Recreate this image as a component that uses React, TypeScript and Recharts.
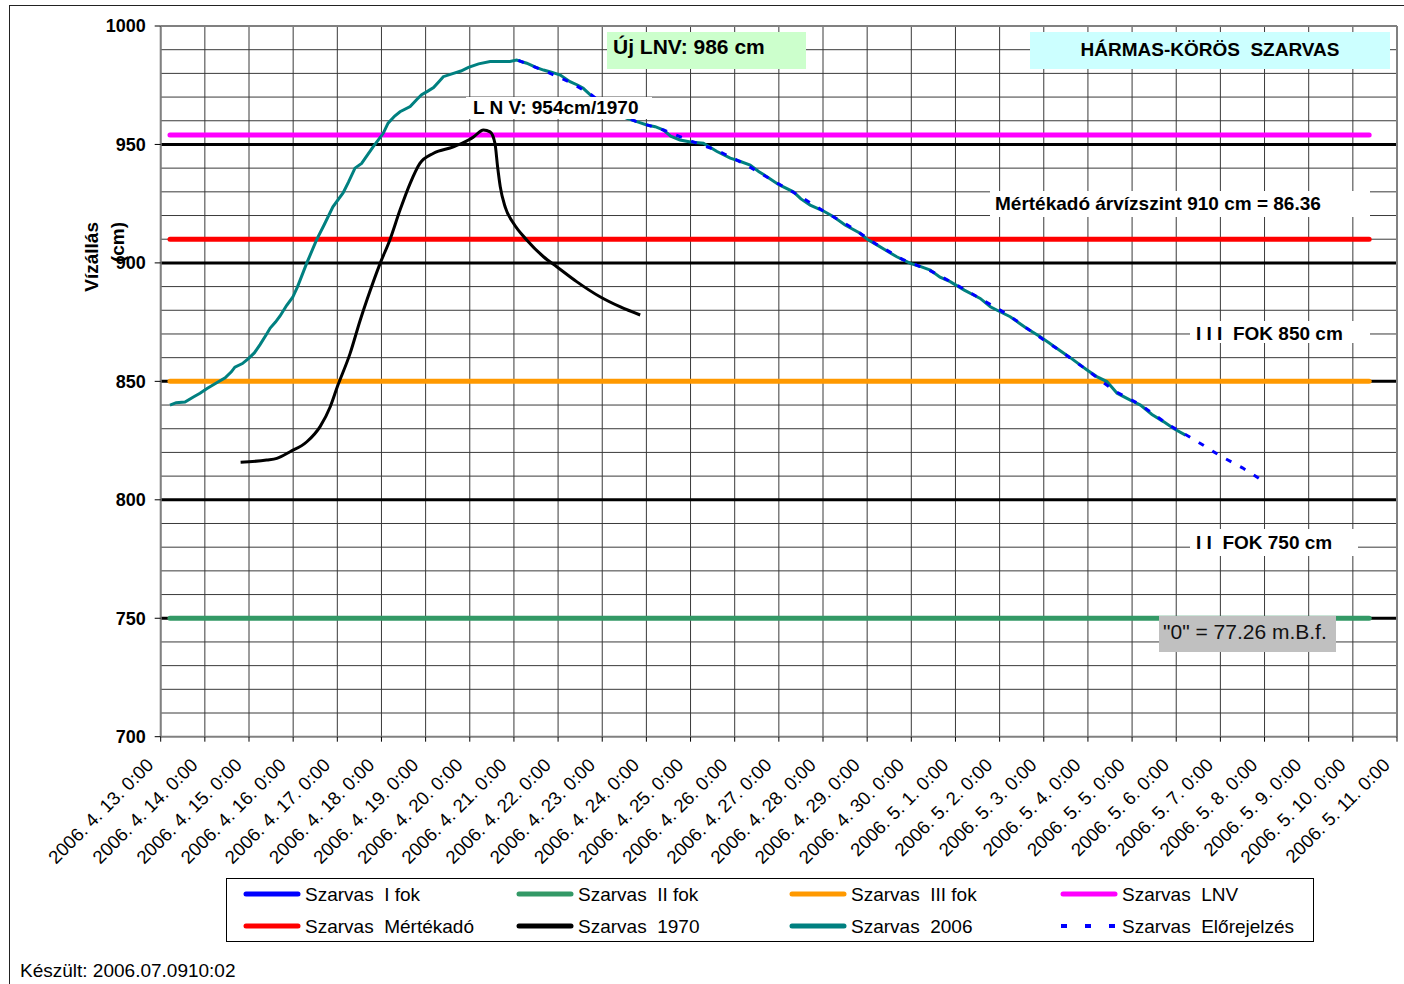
import React from 'react';
import { LineChart, Line, XAxis, YAxis, CartesianGrid, ReferenceLine } from 'recharts';

const FONT = "'Liberation Sans', Arial, sans-serif";

const tickLabels = [
  '2006. 4. 13. 0:00', '2006. 4. 14. 0:00', '2006. 4. 15. 0:00', '2006. 4. 16. 0:00',
  '2006. 4. 17. 0:00', '2006. 4. 18. 0:00', '2006. 4. 19. 0:00', '2006. 4. 20. 0:00',
  '2006. 4. 21. 0:00', '2006. 4. 22. 0:00', '2006. 4. 23. 0:00', '2006. 4. 24. 0:00',
  '2006. 4. 25. 0:00', '2006. 4. 26. 0:00', '2006. 4. 27. 0:00', '2006. 4. 28. 0:00',
  '2006. 4. 29. 0:00', '2006. 4. 30. 0:00', '2006. 5. 1. 0:00', '2006. 5. 2. 0:00',
  '2006. 5. 3. 0:00', '2006. 5. 4. 0:00', '2006. 5. 5. 0:00', '2006. 5. 6. 0:00',
  '2006. 5. 7. 0:00', '2006. 5. 8. 0:00', '2006. 5. 9. 0:00', '2006. 5. 10. 0:00',
  '2006. 5. 11. 0:00',
];
const dayTicks = tickLabels.map((_, i) => i);
const yTicks = [700, 750, 800, 850, 900, 950, 1000];
const yMinorGrid = [710, 720, 730, 740, 760, 770, 780, 790, 810, 820, 830, 840, 860, 870, 880, 890, 910, 920, 930, 940, 960, 970, 980, 990];
const yMajorGrid = [750, 800, 850, 900, 950];

// alert levels (cm) and the day span they are drawn over
const levelSpan = [0.21, 27.37];
const levelIfok = 650;
const levelIIfok = 750;
const levelIIIfok = 850;
const levelLNV = 954;
const levelMertekado = 910;

// [day since 2006.4.13 0:00, water level cm]
const szarvas1970: [number, number][] = [
  [1.81, 815.8], [2.4, 816.8], [2.63, 817.5], [2.93, 820.3], [3.31, 824.5], [3.61, 830.9],
  [3.84, 839.3], [4.0, 847.7], [4.29, 861.8], [4.52, 875.9], [4.67, 884.3], [4.97, 899.8],
  [5.19, 909.7], [5.42, 922.3], [5.65, 933.6], [5.87, 942], [6.18, 946.3], [6.63, 949],
  [6.97, 951.9], [7.08, 953.1], [7.31, 956.1], [7.46, 955.3], [7.57, 950.5], [7.63, 940.6],
  [7.69, 932.2], [7.8, 923.7], [7.99, 916.7], [8.29, 909.7], [8.67, 902.6], [8.97, 898.4],
  [9.42, 892.1], [9.95, 885.7], [10.4, 881.5], [10.86, 878],
];

const szarvas2006: [number, number][] = [
  [0.21, 840], [0.35, 841], [0.55, 841.3], [0.75, 843.5], [0.89, 845], [1.05, 847],
  [1.23, 849], [1.46, 851.5], [1.6, 854], [1.68, 856], [1.85, 857.5], [1.98, 859.5],
  [2.12, 862], [2.25, 865.5], [2.4, 870], [2.48, 872.5], [2.6, 875], [2.7, 877.5],
  [2.85, 882], [2.99, 885.5], [3.1, 890], [3.31, 900], [3.53, 909.7], [3.7, 916],
  [3.9, 923.7], [4.13, 929.5], [4.25, 934], [4.4, 940], [4.55, 942], [4.7, 946],
  [4.81, 949], [5.04, 954.7], [5.15, 959], [5.3, 962], [5.42, 963.8], [5.65, 966],
  [5.8, 969], [5.91, 971], [6.05, 972.5], [6.18, 974], [6.3, 976.5], [6.4, 978.6],
  [6.63, 980], [6.8, 981], [6.97, 982.5], [7.2, 984], [7.46, 985], [7.7, 985],
  [7.91, 985], [8.06, 985.6], [8.29, 984.3], [8.5, 982.5], [8.67, 981.4], [8.85, 980.5],
  [9.05, 979.3], [9.27, 976.5], [9.45, 975], [9.57, 973.7], [9.73, 970.9], [9.9, 968],
  [10.2, 964], [10.56, 961], [10.8, 959.5], [11.01, 958.2], [11.2, 957.5], [11.39, 956.1],
  [11.55, 953.5], [11.76, 951.9], [12.0, 951], [12.29, 950.5], [12.6, 947], [12.9, 944.2],
  [13.1, 943], [13.35, 941.3], [13.55, 938.5], [13.73, 936.4], [14.0, 933], [14.33, 930],
  [14.5, 927], [14.71, 924.4], [15.0, 922], [15.24, 919.5], [15.5, 916], [15.84, 912.5],
  [16.0, 910], [16.22, 907.6], [16.45, 905], [16.67, 902.6], [16.98, 899.8], [17.2, 898.5],
  [17.43, 897], [17.65, 894], [17.88, 892.1], [18.2, 888.5], [18.56, 885], [18.79, 881.5],
  [19.0, 879.5], [19.24, 877.3], [19.6, 872.5], [19.92, 868.8], [20.1, 866.5], [20.3, 863.9],
  [20.6, 860], [20.98, 854.8], [21.2, 852], [21.43, 849.9], [21.66, 845], [21.96, 842.1],
  [22.19, 840], [22.45, 836], [22.71, 833], [22.95, 830], [23.21, 827.3],
];

const szarvasElorejelzes: [number, number][] = [
  [8.1, 985.5], [8.7, 981], [9.3, 976], [9.75, 971], [10.3, 963], [10.8, 959.5],
  [11.4, 956], [12.0, 951.5], [12.6, 947.5], [13.2, 942], [13.8, 935.5], [14.4, 929],
  [15.0, 922], [15.6, 915.5], [16.2, 908], [16.8, 901.5], [17.4, 897], [18.0, 891],
  [18.6, 884.5], [19.2, 878], [19.8, 870], [20.4, 862.5], [21.0, 854.5], [21.6, 846],
  [22.2, 840], [22.8, 832], [23.4, 825.5], [24.0, 818.5], [24.5, 813.5], [25.0, 807.5],
];

const toPts = (arr: [number, number][]) => arr.map(([d, v]) => ({ d, v }));
const levelPts = (v: number) => levelSpan.map((d) => ({ d, v }));

const legendItems = [
  { name: 'Szarvas  I fok', color: '#0000ff', dash: false },
  { name: 'Szarvas  II fok', color: '#339966', dash: false },
  { name: 'Szarvas  III fok', color: '#ff9900', dash: false },
  { name: 'Szarvas  LNV', color: '#ff00ff', dash: false },
  { name: 'Szarvas  Mértékadó', color: '#ff0000', dash: false },
  { name: 'Szarvas  1970', color: '#000000', dash: false },
  { name: 'Szarvas  2006', color: '#008080', dash: false },
  { name: 'Szarvas  Előrejelzés', color: '#0000ff', dash: true },
];
const legendCols = [244, 517, 790, 1061];
const legendRows = [894, 926];

const XTick = (props: any) => {
  const { x, y, payload } = props;
  const tx = x - 6;
  const ty = y + 22.5;
  return (
    <text x={tx} y={ty} textAnchor="end" transform={`rotate(-45 ${tx} ${ty})`}
      fontSize={18.6} fontFamily={FONT} fill="#000" style={{ whiteSpace: 'pre' }}>
      {tickLabels[payload.value]}
    </text>
  );
};

const box = (left: number, top: number, width: number, height: number, bg: string): React.CSSProperties => ({
  position: 'absolute', left, top, width, height, background: bg,
  display: 'flex', alignItems: 'center', boxSizing: 'border-box', whiteSpace: 'pre',
  fontFamily: FONT, color: '#000',
});

export default function App() {
  return (
    <div style={{ position: 'absolute', left: 0, top: 0, width: 1404, height: 984, overflow: 'hidden', background: '#fff', fontFamily: FONT }}>
      <div style={{ position: 'absolute', left: 9, top: 5, width: 1420, height: 1000, border: '1px solid #222' }} />
      <div style={{ position: 'absolute', left: 0, top: 0 }}>
        <LineChart width={1404} height={984} margin={{ top: 26, right: 7, bottom: 127.3, left: 100.7 }}>
          <CartesianGrid horizontalValues={yMinorGrid} verticalValues={dayTicks} stroke="#3a3a3a" strokeWidth={1} />
          <XAxis type="number" dataKey="d" domain={[0, 28]} ticks={dayTicks} interval={0} allowDataOverflow
            height={120} tickSize={5} tickLine={{ stroke: '#000' }} axisLine={{ stroke: '#808080', strokeWidth: 2 }}
            tick={<XTick />} />
          <YAxis type="number" dataKey="v" domain={[700, 1000]} ticks={yTicks} interval={0} allowDataOverflow
            width={60} tickSize={6} tickMargin={9} tickLine={{ stroke: '#000' }} axisLine={{ stroke: '#808080', strokeWidth: 2 }}
            tick={{ fontSize: 18, fontWeight: 'bold', fill: '#000', fontFamily: FONT }} />
          {yMajorGrid.map((v) => (
            <ReferenceLine key={v} y={v} stroke="#000" strokeWidth={3} />
          ))}
          <ReferenceLine y={1000} stroke="#808080" strokeWidth={2} />
          <ReferenceLine x={28} stroke="#808080" strokeWidth={2} />
          <Line data={levelPts(levelIfok)} dataKey="v" stroke="#0000ff" strokeWidth={5} dot={false} isAnimationActive={false} strokeLinecap="round" />
          <Line data={levelPts(levelIIfok)} dataKey="v" stroke="#339966" strokeWidth={5} dot={false} isAnimationActive={false} strokeLinecap="round" />
          <Line data={levelPts(levelIIIfok)} dataKey="v" stroke="#ff9900" strokeWidth={5} dot={false} isAnimationActive={false} strokeLinecap="round" />
          <Line data={levelPts(levelLNV)} dataKey="v" stroke="#ff00ff" strokeWidth={5} dot={false} isAnimationActive={false} strokeLinecap="round" />
          <Line data={levelPts(levelMertekado)} dataKey="v" stroke="#ff0000" strokeWidth={5} dot={false} isAnimationActive={false} strokeLinecap="round" />
          <Line data={toPts(szarvas1970)} dataKey="v" type="monotone" stroke="#000" strokeWidth={3} dot={false} isAnimationActive={false} />
          <Line data={toPts(szarvas2006)} dataKey="v" type="linear" stroke="#008080" strokeWidth={3} dot={false} isAnimationActive={false} />
          <Line data={toPts(szarvasElorejelzes)} dataKey="v" type="linear" stroke="#0000ff" strokeWidth={3} strokeDasharray="6 10" dot={false} isAnimationActive={false} />
        </LineChart>
      </div>

      {/* axis title */}
      <div style={{ position: 'absolute', left: 92, top: 222, width: 0, height: 0 }}>
        <div style={{ position: 'absolute', right: 0, top: -11, transform: 'rotate(-90deg)', transformOrigin: '100% 50%', fontWeight: 'bold', fontSize: 19, whiteSpace: 'pre', lineHeight: '22px' }}>Vízállás</div>
      </div>
      <div style={{ position: 'absolute', left: 118, top: 222, width: 0, height: 0 }}>
        <div style={{ position: 'absolute', right: 0, top: -11, transform: 'rotate(-90deg)', transformOrigin: '100% 50%', fontWeight: 'bold', fontSize: 19, whiteSpace: 'pre', lineHeight: '22px' }}>(cm)</div>
      </div>

      {/* annotations */}
      <div style={{ ...box(607, 32, 199, 37, '#ccffcc'), paddingLeft: 6, paddingBottom: 8, fontWeight: 'bold', fontSize: 21 }}>Új LNV: 986 cm</div>
      <div style={{ ...box(1030, 32, 360, 37, '#ccffff'), justifyContent: 'center', paddingBottom: 2, fontWeight: 'bold', fontSize: 19 }}>HÁRMAS-KÖRÖS  SZARVAS</div>
      <div style={{ ...box(466, 97, 186, 22, '#fff'), paddingLeft: 7, fontWeight: 'bold', fontSize: 19 }}>L N V: 954cm/1970</div>
      <div style={{ ...box(990, 191, 380, 26, '#fff'), paddingLeft: 5, fontWeight: 'bold', fontSize: 19 }}>Mértékadó árvízszint 910 cm = 86.36</div>
      <div style={{ ...box(1190, 321, 180, 22, '#fff'), paddingLeft: 6, paddingTop: 3, fontWeight: 'bold', fontSize: 19 }}>I I I  FOK 850 cm</div>
      <div style={{ ...box(1190, 529, 168, 27, '#fff'), paddingLeft: 6, fontWeight: 'bold', fontSize: 19 }}>I I  FOK 750 cm</div>
      <div style={{ ...box(1159, 616, 177, 36, '#c0c0c0'), paddingLeft: 4, paddingBottom: 4, fontSize: 21, color: '#111' }}>"0" = 77.26 m.B.f.</div>

      {/* legend */}
      <div style={{ position: 'absolute', left: 226, top: 878, width: 1088, height: 64, border: '1px solid #000', boxSizing: 'border-box', background: '#fff' }} />
      <svg style={{ position: 'absolute', left: 0, top: 0 }} width={1404} height={984} pointerEvents="none">
        {legendItems.map((it, i) => {
          const x = legendCols[i % 4];
          const y = legendRows[Math.floor(i / 4)];
          return (
            <g key={it.name}>
              {it.dash ? (
                <line x1={x} y1={y} x2={x + 56} y2={y} stroke={it.color} strokeWidth={4} strokeDasharray="6 18" />
              ) : (
                <line x1={x + 2} y1={y} x2={x + 54} y2={y} stroke={it.color} strokeWidth={5} strokeLinecap="round" />
              )}
              <text x={x + 61} y={y} dominantBaseline="central" fontSize={19} fontFamily={FONT} fill="#000" style={{ whiteSpace: 'pre' }}>{it.name}</text>
            </g>
          );
        })}
      </svg>

      <div style={{ position: 'absolute', left: 20, top: 960, fontSize: 19, fontFamily: FONT, whiteSpace: 'pre', lineHeight: '22px' }}>Készült: 2006.07.0910:02</div>
    </div>
  );
}
